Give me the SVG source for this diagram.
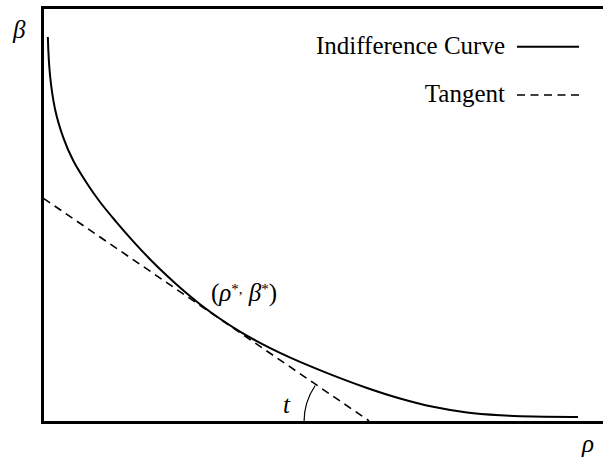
<svg xmlns="http://www.w3.org/2000/svg" width="603" height="459" viewBox="0 0 603 459">
  <style>
    text { font-family: 'Liberation Serif', 'Times New Roman', Tinos, 'DejaVu Serif', serif; font-size: 25px; fill: #000; }
    .it { font-style: italic; }
    .solid { fill: none; stroke: #000; stroke-width: 2; stroke-linecap: butt; stroke-linejoin: round; }
    .dash { fill: none; stroke: #000; stroke-width: 1.6; stroke-dasharray: 8 5.5; }
    .frame { fill: none; stroke: #000; stroke-width: 3; }
    .arc { fill: none; stroke: #000; stroke-width: 1.2; }
  </style>
  <rect width="603" height="459" fill="#fff"/>

  <g id="axes">
    <path class="frame" d="M603 7.5 H42.5 V422.5 H603"/>
    <text class="it" x="13" y="37.5" font-family="Liberation Serif, serif">β</text>
    <text class="it" x="582" y="451.5" font-family="Liberation Serif, serif">ρ</text>
  </g>

  <g id="indifference-curve">
    <path class="solid" d="M47.85 37 C48.23 49.5 48.81 63 50 75 C51.19 87 52.78 98.55 55 109 C57.22 119.45 60.25 129.07 63.3 137.7 C66.35 146.33 69.4 153.25 73.3 160.8 C77.2 168.35 82.25 176.13 86.7 183 C91.15 189.87 95.12 195.57 100 202 C104.88 208.43 110.5 215.08 116 221.6 C121.5 228.12 127.33 234.83 133 241.1 C138.67 247.37 144.33 253.42 150 259.2 C155.67 264.98 161.33 270.48 167 275.8 C172.67 281.12 178.5 286.37 184 291.1 C189.5 295.83 194 299.58 200 304.2 C206 308.82 213.33 314.23 220 318.8 C226.67 323.37 233.33 327.58 240 331.6 C246.67 335.62 253.33 339.35 260 342.9 C266.67 346.45 273.33 349.73 280 352.9 C286.67 356.07 291.17 358.15 300 361.9 C308.83 365.65 321.83 371.05 333 375.4 C344.17 379.75 355.83 384.15 367 388 C378.17 391.85 389 395.37 400 398.5 C411 401.63 421.83 404.47 433 406.8 C444.17 409.13 455.83 411.08 467 412.5 C478.17 413.92 489 414.62 500 415.3 C511 415.98 520 416.32 533 416.6 C546 416.88 563 416.93 578 417"/>
  </g>

  <g id="tangent">
    <path class="dash" d="M43.5 198.4 L369 420.8"/>
  </g>

  <g id="angle-t">
    <path class="arc" d="M304 422 A65 65 0 0 1 315.2 385.5"/>
    <text class="it" x="283" y="412.5" font-family="Liberation Serif, serif">t</text>
  </g>

  <g id="point-label">
    <text x="211" y="300.6" font-family="Liberation Serif, serif">(<tspan class="it">ρ</tspan><tspan font-size="15" dy="-7">*,</tspan><tspan dy="7"> </tspan><tspan class="it">β</tspan><tspan font-size="15" dy="-7">*</tspan><tspan dy="7">)</tspan></text>
  </g>

  <g id="legend">
    <text x="505" y="54" text-anchor="end" font-family="Liberation Serif, serif">Indifference Curve</text>
    <path class="solid" d="M517 46.7 H579"/>
    <text x="505" y="101.5" text-anchor="end" font-family="Liberation Serif, serif">Tangent</text>
    <path class="dash" d="M517 95 H579"/>
  </g>
</svg>
